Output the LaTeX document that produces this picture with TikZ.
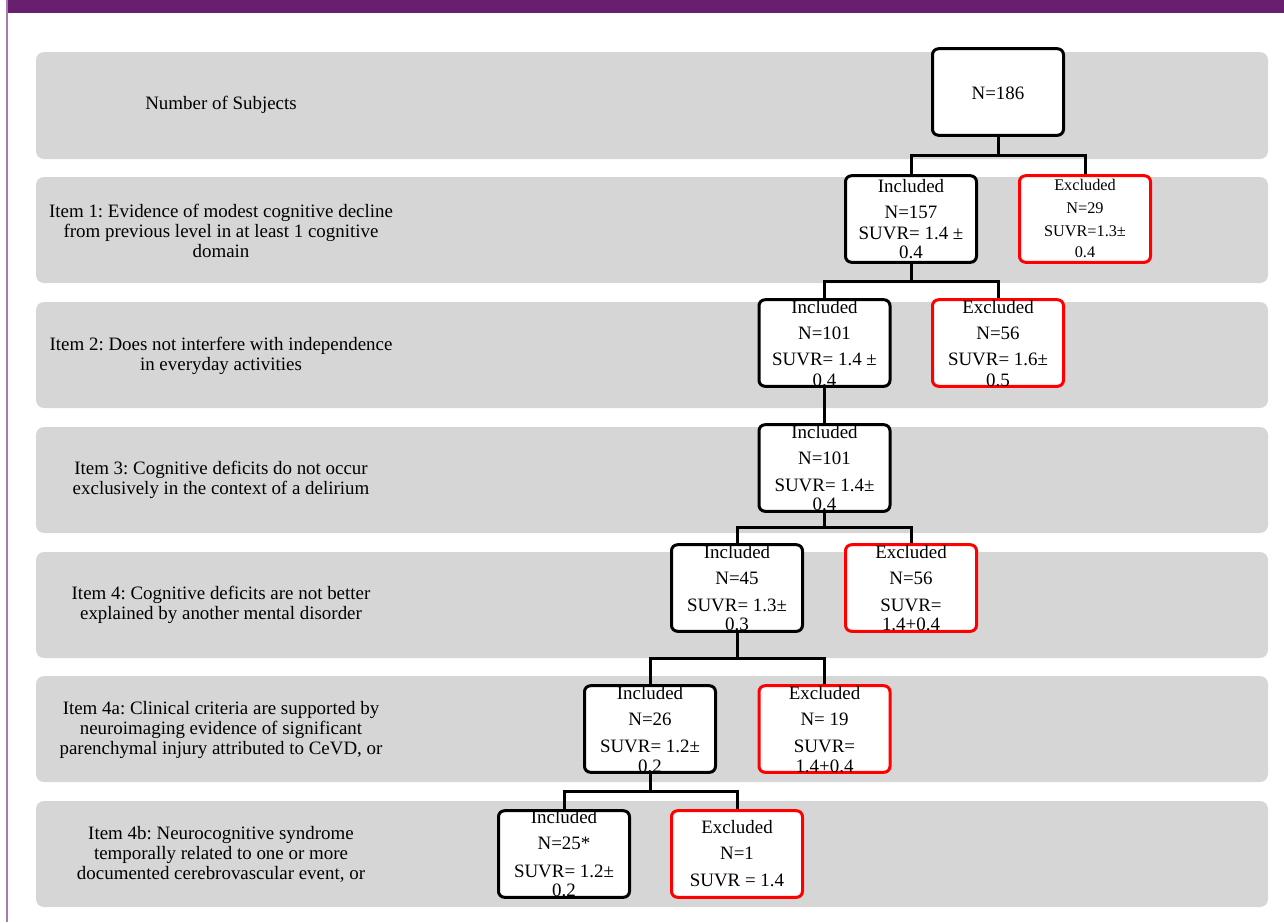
\documentclass[tikz,border=0pt]{standalone}
\usepackage{fontspec}
\setmainfont{Liberation Serif}
\definecolor{bandgray}{HTML}{D6D6D6}
\definecolor{exred}{HTML}{FF0000}
\definecolor{topbar}{HTML}{6A1F6E}
\definecolor{sideline}{HTML}{A77BB0}
\frenchspacing
\begin{document}
\begin{tikzpicture}[x=0.75pt,y=-0.75pt,
  band/.style={fill=bandgray, rounded corners=6pt},
  ibox/.style={draw=black, line width=2.25pt, rounded corners=4.5pt, fill=white,
    minimum width=98.25pt, minimum height=64.9pt, inner sep=0pt},
  ebox/.style={ibox, draw=exred},
  txt/.style={inner sep=0pt, font=\fontsize{14.2}{15}\selectfont},
  stxt/.style={inner sep=0pt, font=\fontsize{12.2}{13}\selectfont},
  lbl/.style={align=center, inner sep=0pt, font=\fontsize{14.2}{15}\selectfont},
  conn/.style={line width=2.25pt, draw=black}]
\useasboundingbox (0,0) rectangle (1284,922);
% frame
\fill[topbar] (7,0) rectangle (1284,13);
\fill[sideline] (5.5,0) rectangle (7.5,922);
% bands
\fill[band] (36,52) rectangle (1268,159);
\fill[band] (36,177) rectangle (1268,283);
\fill[band] (36,302) rectangle (1268,408);
\fill[band] (36,427) rectangle (1268,533);
\fill[band] (36,552) rectangle (1268,658);
\fill[band] (36,676) rectangle (1268,782);
\fill[band] (36,801) rectangle (1268,907);
% left labels
\node[lbl] (L0) at (221,105) {Number of Subjects};
\node[lbl] (L1) at (221,231) {Item 1: Evidence of modest cognitive decline\\from previous level in at least 1 cognitive\\domain};
\node[lbl] (L2) at (221,356) {Item 2: Does not interfere with independence\\in everyday activities};
\node[lbl] (L3) at (221,480) {Item 3: Cognitive deficits do not occur\\exclusively in the context of a delirium};
\node[lbl] (L4) at (221,605) {Item 4: Cognitive deficits are not better\\explained by another mental disorder};
\node[lbl] (L5) at (221,730) {Item 4a: Clinical criteria are supported by\\neuroimaging evidence of significant\\parenchymal injury attributed to CeVD, or};
\node[lbl] (L6) at (221,854) {Item 4b: Neurocognitive syndrome\\temporally related to one or more\\documented cerebrovascular event, or};
% boxes
\node[ibox] (n186) at (998,92) {};
\node[ibox] (i157) at (911,219) {};
\node[ebox] (e29) at (1085,219) {};
\node[ibox] (i101) at (824.5,343) {};
\node[ebox] (e56) at (998,343) {};
\node[ibox] (i101b) at (824.5,468) {};
\node[ibox] (i45) at (737,588) {};
\node[ebox] (e56b) at (911,588) {};
\node[ibox] (i26) at (650,729) {};
\node[ebox] (e19) at (824.5,729) {};
\node[ibox] (i25) at (564,854) {};
\node[ebox] (e1) at (737,854) {};
% connectors
\coordinate (j1) at (998,155.5);
\coordinate (j2) at (911,281);
\coordinate (j3) at (824.5,527);
\coordinate (j4) at (737,658.3);
\coordinate (j5) at (650,791.5);
\draw[conn] (n186.south) -- (j1);
\draw[conn] (i157.north) |- (j1) -| (e29.north);
\draw[conn] (i157.south) -- (j2);
\draw[conn] (i101.north) |- (j2) -| (e56.north);
\draw[conn] (i101.south) -- (i101b.north);
\draw[conn] (i101b.south) -- (j3);
\draw[conn] (i45.north) |- (j3) -| (e56b.north);
\draw[conn] (i45.south) -- (j4);
\draw[conn] (i26.north) |- (j4) -| (e19.north);
\draw[conn] (i26.south) -- (j5);
\draw[conn] (i25.north) |- (j5) -| (e1.north);
% box texts
\node[txt] (t186) at (998,93) {N=186};
\node[txt] (t157a) at (911,186) {Included};
\node[txt] (t157b) at (911,212) {N=157};
\node[txt] (t157c) at (911,233) {SUVR= 1.4 ±};
\node[txt] (t157d) at (911,252) {0.4};
\node[stxt] (t29a) at (1085,185) {Excluded};
\node[stxt] (t29b) at (1085,208) {N=29};
\node[stxt] (t29c) at (1085,231) {SUVR=1.3±};
\node[stxt] (t29d) at (1085,252) {0.4};
\node[txt] (t101a) at (824.5,307) {Included};
\node[txt] (t101b) at (824.5,333) {N=101};
\node[txt] (t101c) at (824.5,359) {SUVR= 1.4 ±};
\node[txt] (t101d) at (824.5,380) {0.4};
\node[txt] (t56a) at (998,307) {Excluded};
\node[txt] (t56b) at (998,333) {N=56};
\node[txt] (t56c) at (998,359) {SUVR= 1.6±};
\node[txt] (t56d) at (998,380) {0.5};
\node[txt] (t101ba) at (824.5,432) {Included};
\node[txt] (t101bb) at (824.5,458) {N=101};
\node[txt] (t101bc) at (824.5,485) {SUVR= 1.4±};
\node[txt] (t101bd) at (824.5,504) {0.4};
\node[txt] (t45a) at (737,552) {Included};
\node[txt] (t45b) at (737,578) {N=45};
\node[txt] (t45c) at (737,605) {SUVR= 1.3±};
\node[txt] (t45d) at (737,624) {0.3};
\node[txt] (t56ba) at (911,552) {Excluded};
\node[txt] (t56bb) at (911,578) {N=56};
\node[txt] (t56bc) at (911,605) {SUVR=};
\node[txt] (t56bd) at (911,624) {1.4+0.4};
\node[txt] (t26a) at (650,693) {Included};
\node[txt] (t26b) at (650,719) {N=26};
\node[txt] (t26c) at (650,746) {SUVR= 1.2±};
\node[txt] (t26d) at (650,766) {0.2};
\node[txt] (t19a) at (824.5,693) {Excluded};
\node[txt] (t19b) at (824.5,719) {N= 19};
\node[txt] (t19c) at (824.5,746) {SUVR=};
\node[txt] (t19d) at (824.5,766) {1.4+0.4};
\node[txt] (t25a) at (564,817) {Included};
\node[txt] (t25b) at (564,843) {N=25*};
\node[txt] (t25c) at (564,871) {SUVR= 1.2±};
\node[txt] (t25d) at (564,890) {0.2};
\node[txt] (t1a) at (737,827) {Excluded};
\node[txt] (t1b) at (737,853) {N=1};
\node[txt] (t1c) at (737,880) {SUVR = 1.4};
\end{tikzpicture}
\end{document}
